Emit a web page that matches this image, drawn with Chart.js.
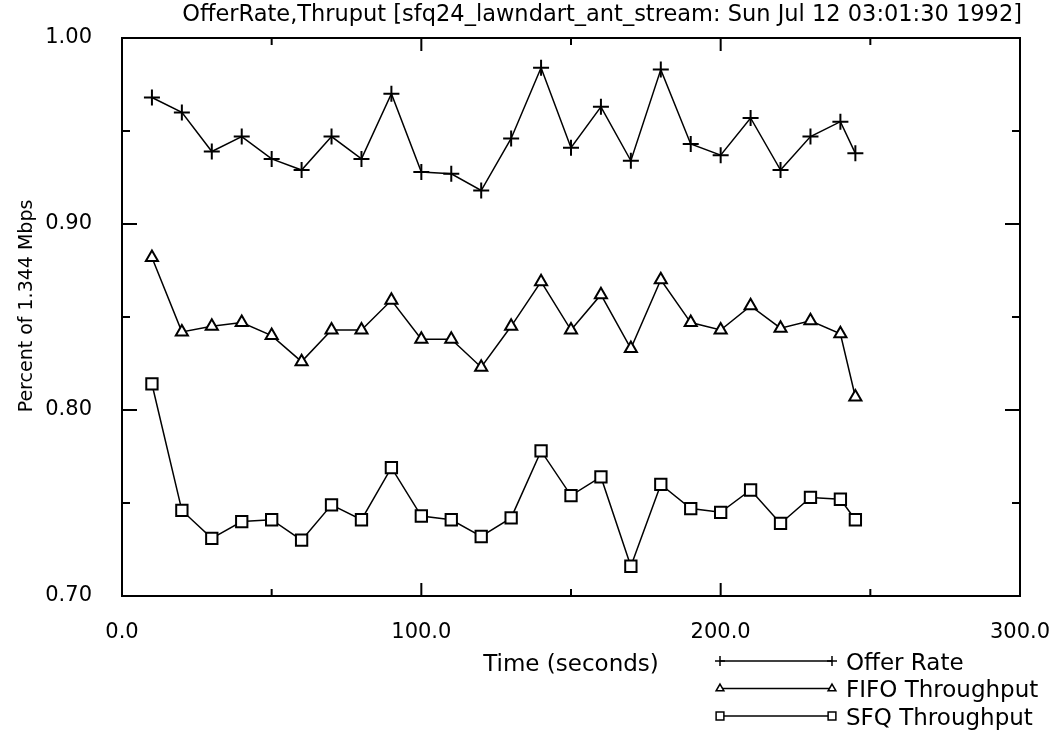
<!DOCTYPE html>
<html>
<head>
<meta charset="utf-8">
<title>OfferRate, Thruput</title>
<script src="https://cdn.jsdelivr.net/npm/chart.js@4.4.0/dist/chart.umd.min.js"></script>
<style>
  html, body { margin: 0; padding: 0; background: #fff; }
  #wrap { width: 1055px; height: 731px; }
</style>
</head>
<body>
<div id="wrap"><canvas id="thruputChart" width="1055" height="731"></canvas></div>
<script>
// sample times (seconds)
var times = [10, 20, 30, 40, 50, 60, 70, 80, 90, 100, 110, 120, 130,
             140, 150, 160, 170, 180, 190, 200, 210, 220, 230, 240, 245];

// fraction of 1.344 Mbps
var offerRate = [0.968, 0.960, 0.939, 0.947, 0.935, 0.929, 0.947, 0.935, 0.970, 0.928,
                 0.927, 0.918, 0.946, 0.984, 0.941, 0.963, 0.934, 0.983, 0.943, 0.937,
                 0.957, 0.929, 0.947, 0.955, 0.938];
var fifoThroughput = [0.882, 0.842, 0.845, 0.847, 0.840, 0.826, 0.843, 0.843, 0.859, 0.838,
                      0.838, 0.823, 0.845, 0.869, 0.843, 0.862, 0.833, 0.870, 0.847, 0.843,
                      0.856, 0.844, 0.848, 0.841, 0.807];
var sfqThroughput = [0.814, 0.746, 0.731, 0.740, 0.741, 0.730, 0.749, 0.741, 0.769, 0.743,
                     0.741, 0.732, 0.742, 0.778, 0.754, 0.764, 0.716, 0.760, 0.747, 0.745,
                     0.757, 0.739, 0.753, 0.752, 0.741];

var seriesNames = ["Offer Rate", "FIFO Throughput", "SFQ Throughput"];

// axis ticks
var xMajor = [0, 100, 200, 300];
var xMinor = [50, 150, 250];
var yMajor = [0.70, 0.80, 0.90, 1.00];
var yMinor = [0.75, 0.85, 0.95];

var chartTitle = "OfferRate,Thruput [sfq24_lawndart_ant_stream: Sun Jul 12 03:01:30 1992]";
var yTitle = "Percent of 1.344 Mbps";
var FONT = "'DejaVu Sans', sans-serif";

function points(ys) {
  return times.map(function (t, i) { return { x: t, y: ys[i] }; });
}

// box around the plot with short inward ticks on all four sides
var frameTicks = {
  id: "frameTicks",
  afterDraw: function (chart) {
    var ctx = chart.ctx;
    var a = chart.chartArea;
    var xs = chart.scales.x, ys = chart.scales.y;
    ctx.save();
    ctx.strokeStyle = "#000";
    ctx.lineWidth = 2;
    ctx.strokeRect(a.left, a.top, a.right - a.left, a.bottom - a.top);
    ctx.beginPath();
    function xt(v, len) {
      var px = xs.getPixelForValue(v);
      ctx.moveTo(px, a.bottom); ctx.lineTo(px, a.bottom - len);
      ctx.moveTo(px, a.top); ctx.lineTo(px, a.top + len);
    }
    function yt(v, len) {
      var py = ys.getPixelForValue(v);
      ctx.moveTo(a.left, py); ctx.lineTo(a.left + len, py);
      ctx.moveTo(a.right, py); ctx.lineTo(a.right - len, py);
    }
    xMajor.forEach(function (v) { xt(v, 13); });
    xMinor.forEach(function (v) { xt(v, 7); });
    yMajor.forEach(function (v) { yt(v, 15); });
    yMinor.forEach(function (v) { yt(v, 8); });
    ctx.stroke();
    ctx.restore();
  }
};

// title, y axis label and the line+marker legend under the plot
var labels = {
  id: "labels",
  afterDraw: function (chart) {
    var ctx = chart.ctx;
    ctx.save();
    ctx.fillStyle = "#000";
    ctx.font = "22.5px " + FONT;
    ctx.textAlign = "right";
    ctx.textBaseline = "middle";
    ctx.fillText(chartTitle, 1022, 15);

    ctx.save();
    ctx.translate(27, 306);
    ctx.rotate(-Math.PI / 2);
    ctx.textAlign = "center";
    ctx.font = "19px " + FONT;
    ctx.fillText(yTitle, 0, 0);
    ctx.restore();

    ctx.font = "23px " + FONT;
    ctx.textAlign = "left";
    chart.data.datasets.forEach(function (ds, i) {
      var y = 661 + i * 27.5;
      ctx.strokeStyle = "#000";
      ctx.lineWidth = 1.5;
      ctx.beginPath();
      ctx.moveTo(720, y);
      ctx.lineTo(832, y);
      ctx.stroke();
      var opts = {
        pointStyle: ds.pointStyle,
        radius: ds.legendRadius,
        borderWidth: 1.5,
        rotation: 0
      };
      ctx.fillStyle = "#fff";
      Chart.helpers.drawPoint(ctx, opts, 720, y);
      Chart.helpers.drawPoint(ctx, opts, 832, y);
      ctx.fillStyle = "#000";
      ctx.fillText(ds.label, 846, y + 3);
    });
    ctx.restore();
  }
};

new Chart("thruputChart", {
  type: "line",
  data: {
    datasets: [
      {
        label: seriesNames[0],
        data: points(offerRate),
        borderColor: "#000",
        borderWidth: 1.5,
        pointStyle: "cross",
        pointRadius: 8,
        pointBorderWidth: 2,
        pointBorderColor: "#000",
        legendRadius: 5,
        fill: false
      },
      {
        label: seriesNames[1],
        data: points(fifoThroughput),
        borderColor: "#000",
        borderWidth: 1.5,
        pointStyle: "triangle",
        pointRadius: 7,
        pointBorderWidth: 2,
        pointBorderColor: "#000",
        pointBackgroundColor: "#fff",
        legendRadius: 4.5,
        fill: false
      },
      {
        label: seriesNames[2],
        data: points(sfqThroughput),
        borderColor: "#000",
        borderWidth: 1.5,
        pointStyle: "rect",
        pointRadius: 8,
        pointBorderWidth: 2,
        pointBorderColor: "#000",
        pointBackgroundColor: "#fff",
        legendRadius: 5.5,
        fill: false
      }
    ]
  },
  options: {
    responsive: false,
    animation: false,
    devicePixelRatio: 1,
    layout: { padding: { top: 38, right: 35, left: 0, bottom: 0 } },
    plugins: {
      legend: { display: false },
      title: { display: false },
      tooltip: { enabled: false }
    },
    scales: {
      x: {
        type: "linear",
        min: 0,
        max: 300,
        afterBuildTicks: function (scale) {
          scale.ticks = xMajor.map(function (v) { return { value: v }; });
        },
        afterFit: function (scale) {
          scale.height = 135;
          scale.paddingLeft = 0;
          scale.paddingRight = 0;
        },
        grid: { display: false, drawTicks: false },
        border: { display: false },
        ticks: {
          color: "#000",
          font: { family: FONT, size: 21 },
          padding: 24,
          maxRotation: 0,
          callback: function (v) { return v.toFixed(1); }
        },
        title: {
          display: true,
          text: "Time (seconds)",
          color: "#000",
          font: { family: FONT, size: 23 },
          padding: { bottom: 52 }
        }
      },
      y: {
        min: 0.7,
        max: 1.0,
        afterBuildTicks: function (scale) {
          scale.ticks = yMajor.map(function (v) { return { value: v }; });
        },
        afterFit: function (scale) {
          scale.width = 122;
          scale.paddingTop = 0;
          scale.paddingBottom = 0;
        },
        grid: { display: false, drawTicks: false },
        border: { display: false },
        ticks: {
          color: "#000",
          font: { family: FONT, size: 21 },
          padding: 30,
          callback: function (v) { return v.toFixed(2); }
        }
      }
    }
  },
  plugins: [frameTicks, labels]
});
</script>
</body>
</html>
